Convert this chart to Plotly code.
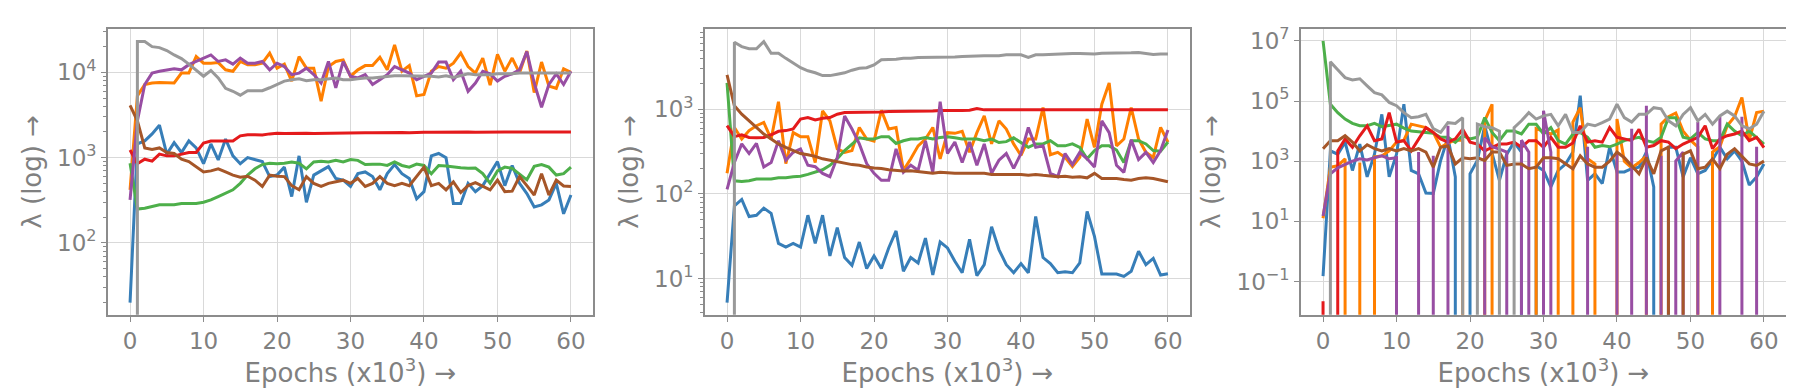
import plotly.graph_objects as go
from plotly.subplots import make_subplots

epochs = list(range(61))

# ---- panel 1 ----
p1_blue = [20, 1450, 1570, 1900, 2400, 1100, 1500, 1150, 1570, 1300, 850,
           1450, 940, 1650, 1050, 850, 1000, 940, 900, 600, 625,
           775, 350, 1050, 300, 625, 700, 785, 570, 545, 460,
           650, 680, 600, 420, 650, 830, 650, 570, 330, 400,
           1050, 1120, 1000, 290, 290, 500, 400, 470, 650, 900,
           470, 810, 500, 380, 265, 280, 320, 500, 220, 365]
p1_orange = [420, 5300, 7200, 7500, 7600, 7500, 7500, 9800, 9800, 15300, 12800,
             12800, 13000, 10700, 10300, 13400, 12300, 12300, 12800, 16800, 11200,
             12500, 7900, 15300, 11200, 11200, 4600, 11700, 13400, 14000, 9000,
             10700, 12000, 12000, 15000, 10700, 21000, 10300, 12000, 5300, 5500,
             10300, 11700, 11200, 12800, 16800, 11700, 9800, 14700, 7100, 16300,
             10300, 14700, 9800, 17800, 5800, 13200, 6900, 6500, 11000, 10000]
p1_green = [860, 250, 255, 265, 280, 280, 280, 290, 290, 290, 300,
            320, 350, 380, 420, 500, 625, 740, 830, 860, 850,
            860, 890, 860, 740, 890, 910, 890, 930, 890, 950,
            930, 830, 840, 840, 810, 890, 810, 775, 840, 810,
            650, 810, 800, 775, 760, 750, 755, 650, 500, 700,
            775, 750, 650, 550, 790, 830, 775, 625, 650, 775]
p1_red = [1230, 850, 960, 910, 1100, 1050, 1050, 1100, 1150, 1150, 1480,
          1570, 1570, 1570, 1570, 1800, 1860, 1860, 1850, 1900, 1930,
          1920, 1930, 1940, 1930, 1920, 1930, 1920, 1930, 1950, 1940,
          1950, 1960, 1960, 1970, 1960, 1980, 1970, 1960, 1980, 1990,
          1980, 1990, 1990, 1980, 1990, 2000, 1990, 2000, 2000, 1990,
          2000, 2000, 2010, 2000, 2000, 2000, 2010, 2000, 2000, 2000]
p1_purple = [320, 2700, 7200, 9800, 10300, 10700, 11000, 10700, 12300, 13400, 14700,
             16000, 13400, 14000, 12500, 14700, 12800, 12800, 13400, 10700, 12800,
             11700, 9400, 9800, 11200, 9400, 7500, 13400, 6600, 13400, 9000,
             8600, 9400, 7200, 8200, 9400, 11700, 10700, 9800, 8200, 9000,
             9800, 13200, 13200, 8200, 10300, 6000, 7500, 10300, 9600, 7900,
             9000, 9600, 10700, 17500, 7500, 3900, 7200, 9600, 7200, 10300]
p1_brown = [4100, 2700, 1300, 1250, 1300, 1150, 1120, 960, 900, 775, 680,
            700, 740, 680, 625, 590, 605, 545, 460, 625, 605,
            600, 470, 420, 600, 500, 460, 500, 520, 545, 500,
            570, 460, 500, 600, 500, 470, 500, 470, 600, 775,
            470, 500, 420, 520, 390, 470, 510, 460, 420, 545,
            400, 405, 600, 470, 365, 650, 365, 545, 465, 460]
p1_gray = [0, 23000, 23000, 20000, 19500, 18000, 16000, 14500, 12500, 10700, 9000,
           10500, 8600, 6500, 6000, 5400, 6100, 6100, 6100, 6600, 7200,
           7900, 8200, 8400, 8000, 8200, 8200, 8400, 8600, 8200, 8200,
           8400, 8600, 8600, 8800, 9000, 9100, 9100, 9100, 9000, 9000,
           9000, 8800, 9100, 8700, 9100, 9600, 9400, 9400, 9400, 9600,
           9600, 9600, 9800, 9800, 10000, 10000, 10000, 10000, 9800, 9800]

# ---- panel 2 ----
p2_blue = [5.2, 72, 86, 54, 56, 68, 59, 26, 23.5, 26, 23.5,
           56, 26, 56, 18.5, 40, 17.7, 14.3, 27, 13.1, 18.5,
           13.1, 23, 36.5, 12.2, 17.7, 15.3, 30, 11, 27, 23,
           16, 11.7, 29, 10.8, 14.6, 41, 22, 14.6, 11.7, 15,
           11.7, 54, 17.7, 15, 11.7, 12, 11.7, 15.3, 62, 31.5,
           11.3, 11.3, 11.3, 10.6, 12.2, 21, 14.6, 17.3, 11, 11.4]
p2_orange = [175, 610, 445, 560, 640, 700, 445, 1230, 228, 530, 475,
             475, 235, 955, 730, 340, 310, 325, 610, 445, 420,
             970, 585, 610, 190, 260, 370, 445, 610, 260, 530,
             520, 550, 310, 530, 835, 390, 730, 585, 390, 285,
             445, 445, 1050, 290, 310, 270, 210, 270, 765, 355,
             1150, 2050, 370, 445, 1050, 445, 310, 270, 610, 410]
p2_green = [2050, 143, 140, 143, 150, 150, 150, 155, 155, 160, 162,
            170, 180, 193, 218, 260, 325, 390, 460, 445, 445,
            475, 475, 395, 425, 445, 445, 465, 445, 465, 475,
            460, 445, 445, 445, 425, 445, 405, 415, 460, 405,
            355, 390, 390, 425, 370, 370, 390, 355, 260, 325,
            370, 370, 330, 235, 425, 425, 390, 325, 320, 410]
p2_red = [640, 475, 500, 465, 460, 465, 500, 550, 560, 585, 765,
          800, 750, 785, 800, 875, 915, 915, 915, 920, 930,
          930, 940, 940, 940, 945, 950, 955, 955, 970, 965,
          965, 970, 975, 1020, 985, 980, 980, 985, 990, 990,
          985, 985, 990, 990, 985, 990, 990, 990, 985, 990,
          990, 990, 995, 990, 990, 990, 990, 990, 990, 990]
p2_purple = [113, 235, 390, 300, 395, 208, 235, 425, 250, 310, 340,
             218, 210, 175, 160, 270, 835, 585, 390, 228, 175,
             145, 145, 340, 180, 218, 190, 425, 180, 1230, 300,
             410, 235, 410, 218, 390, 176, 250, 300, 200, 300,
             610, 355, 370, 175, 160, 300, 222, 310, 260, 208,
             730, 530, 218, 180, 435, 255, 310, 235, 325, 570]
p2_brown = [2550, 1100, 875, 730, 610, 510, 445, 390, 355, 325, 300,
            290, 278, 260, 250, 238, 228, 222, 218, 208, 203,
            200, 193, 190, 187, 188, 185, 180, 176, 180, 176,
            175, 175, 176, 175, 175, 170, 170, 170, 170, 170,
            166, 170, 166, 162, 160, 162, 157, 160, 155, 175,
            152, 152, 152, 148, 145, 152, 155, 152, 145, 139]
p2_gray = [0, 6200, 5500, 5200, 5200, 6300, 4600, 4600, 4000, 3500, 3100,
           2850, 2700, 2500, 2500, 2600, 2700, 2900, 3050, 3100, 3350,
           3850, 3850, 3900, 4000, 4000, 4100, 4100, 4100, 4100, 4150,
           4150, 4200, 4250, 4250, 4300, 4300, 4300, 4400, 4400, 4400,
           4100, 4400, 4400, 4450, 4500, 4550, 4550, 4550, 4500, 4500,
           4600, 4600, 4650, 4650, 4650, 4700, 4600, 4450, 4500, 4500]

# ---- panel 3 ----
p3_blue = [0.15, 2200, 1700, 4300, 490, 3700, 300, 1700, 36000, 300, 1700,
           78000, 490, 380, 87, 85, 1050, 6200, 300, 0, 380,
           1050, 15000, 1700, 230, 1700, 4300, 2000, 0, 700, 490,
           140, 490, 800, 2000, 150000, 230, 380, 180, 2900, 440,
           440, 560, 630, 2000, 140, 0, 2900, 2900, 300, 1300,
           380, 490, 1100, 2900, 1200, 2200, 1000, 160, 300, 800]
p3_orange = [12.6, 630, 700, 1200, 0, 900, 0, 1400, 1500, 2200, 4300,
             5000, 17000, 15000, 13000, 9000, 2900, 4000, 5000, 5000, 0,
             0, 22000, 78000, 0, 0, 0, 0, 0, 12000, 10000,
             8000, 11000, 0, 20000, 60000, 1200, 800, 0, 0, 25000,
             1000, 600, 900, 1500, 0, 17000, 30000, 40000, 10000, 5000,
             3000, 0, 2000, 3000, 15000, 30000, 130000, 5000, 41000, 46000]
p3_green = [1e7, 78000, 41000, 25000, 18000, 15000, 15000, 18000, 14000, 15000, 17000,
            12500, 10000, 9500, 9000, 8500, 6200, 6200, 4200, 7000, 5500,
            6200, 28000, 9000, 4800, 10000, 10000, 8000, 17000, 17000, 8000,
            13000, 4800, 3700, 8000, 9000, 6200, 2900, 3300, 3000, 3700,
            4800, 5500, 6200, 4800, 4200, 6200, 28000, 28000, 6200, 5500,
            9000, 5500, 4800, 4800, 17000, 10000, 7000, 10000, 6200, 3700]
p3_red = [0.022, 0, 2200, 5500, 2900, 7000, 15000, 4800, 5500, 41000, 4300,
          4800, 2200, 5500, 13000, 9000, 5500, 4300, 5500, 11500, 4300,
          3700, 2200, 2900, 3700, 3700, 4300, 2900, 4800, 4800, 2900,
          6200, 2900, 2900, 4000, 15000, 4300, 4800, 4300, 13000, 6200,
          5500, 4800, 11500, 2900, 3300, 4800, 4300, 2600, 3700, 4800,
          6200, 15000, 2600, 5500, 7000, 8000, 10000, 4800, 6200, 2800]
p3_purple = [15, 380, 600, 800, 1000, 1200, 1100, 1300, 1500, 1200, 1300,
             0, 0, 2000, 0, 1500, 0, 15000, 0, 0, 0,
             0, 6000, 3000, 2500, 2000, 0, 5000, 2000, 0, 47000,
             2000, 0, 0, 0, 0, 3000, 0, 0, 0, 2000,
             0, 12000, 0, 70000, 0, 1500, 0, 1000, 2000, 0,
             20000, 0, 0, 30000, 0, 0, 30000, 0, 3000, 0]
p3_brown = [2600, 4800, 4800, 7000, 4300, 2200, 3500, 2600, 2200, 2600, 2200,
            2600, 2200, 2600, 2000, 630, 2900, 3200, 810, 1300, 1200,
            1300, 1050, 2000, 2000, 720, 800, 800, 560, 630, 1300,
            1300, 1200, 810, 560, 1500, 810, 630, 630, 1000, 2000,
            1300, 720, 380, 1300, 380, 2200, 2900, 0, 1700, 2200,
            560, 630, 1200, 560, 1700, 2600, 1500, 810, 720, 1000]
p3_gray = [0, 2e6, 1.1e6, 6e5, 5e5, 5.5e5, 3.2e5, 1.9e5, 1.6e5, 9e4, 7e4,
           41000, 28000, 30000, 36000, 12000, 9000, 19000, 18000, 28000, 0,
           17000, 14000, 13000, 10000, 0, 13000, 22000, 41000, 25000, 32000,
           36000, 15000, 36000, 9000, 9000, 17000, 15000, 19000, 25000, 78000,
           28000, 20000, 36000, 36000, 60000, 55000, 22000, 15000, 36000, 60000,
           22000, 36000, 17000, 32000, 46000, 32000, 15000, 12000, 17000, 46000]

colors = ["#377eb8", "#ff7f00", "#4daf4a", "#e41a1c", "#984ea3", "#a65628", "#999999"]

panels = [
    [p1_blue, p1_orange, p1_green, p1_red, p1_purple, p1_brown, p1_gray],
    [p2_blue, p2_orange, p2_green, p2_red, p2_purple, p2_brown, p2_gray],
    [p3_blue, p3_orange, p3_green, p3_red, p3_purple, p3_brown, p3_gray],
]

# y axis: (log range, major exponents, minor ticks shown)
y_setup = [
    ([1.158, 4.51], [2, 3, 4], True),
    ([0.571, 3.951], [1, 2, 3], True),
    ([-2.11, 7.40], [-1, 1, 3, 5, 7], False),
]

grey = "#808080"
frame = "#8c8c8c"
font = "DejaVu Sans"

fig = make_subplots(rows=1, cols=3)

for c, series in enumerate(panels):
    for ys, col in zip(series, colors):
        fig.add_trace(go.Scatter(x=epochs, y=ys, mode="lines",
                                 line=dict(color=col, width=3),
                                 showlegend=False), row=1, col=c + 1)

x_domains = [[100 / 1794, 585 / 1794], [697 / 1794, 1182 / 1794], [1293 / 1794, 1778 / 1794]]
y_domain = [1 - 306 / 388, 1 - 17 / 388]

for c in range(3):
    rng, exps, show_minor = y_setup[c]
    sup = lambda e: "10<sup>" + (str(e) if e >= 0 else "\u2212" + str(-e)) + "</sup>"
    minor_vals = [m * 10 ** e for e in range(int(rng[0]) - 1, int(rng[1]) + 1)
                  for m in range(2, 10)]
    fig.update_xaxes(row=1, col=c + 1, domain=x_domains[c], range=[-3, 63],
                     tickvals=[0, 10, 20, 30, 40, 50, 60],
                     showgrid=True, gridcolor="#d9d9d9", gridwidth=1,
                     zeroline=False, showline=True, mirror=True,
                     linecolor=frame, linewidth=1.6,
                     ticks="outside", ticklen=5, tickcolor=frame, tickwidth=1.2,
                     tickfont=dict(size=23, color=grey, family=font),
                     title=dict(text="Epochs (x10<sup>3</sup>) \u2192", standoff=2,
                                font=dict(size=26, color=grey, family=font)))
    yopts = dict(row=1, col=c + 1, type="log", domain=y_domain, range=rng,
                 tickvals=[10 ** e for e in exps], ticktext=[sup(e) for e in exps],
                 showgrid=True, gridcolor="#d9d9d9", gridwidth=1,
                 zeroline=False, showline=True, mirror=True,
                 linecolor=frame, linewidth=1.6,
                 ticks="outside", ticklen=5, tickcolor=frame, tickwidth=1.2,
                 tickfont=dict(size=23, color=grey, family=font),
                 title=dict(text="\u03bb (log) \u2192", standoff=8,
                            font=dict(size=26, color=grey, family=font)))
    if show_minor:
        yopts["minor"] = dict(tickvals=minor_vals, ticks="outside", ticklen=3,
                              tickcolor=frame, tickwidth=1, showgrid=False)
    fig.update_yaxes(**yopts)

fig.update_layout(width=1794, height=388, margin=dict(l=0, r=0, t=0, b=0),
                  plot_bgcolor="white", paper_bgcolor="white",
                  font=dict(family=font, color=grey))

fig.write_html("out.html")
